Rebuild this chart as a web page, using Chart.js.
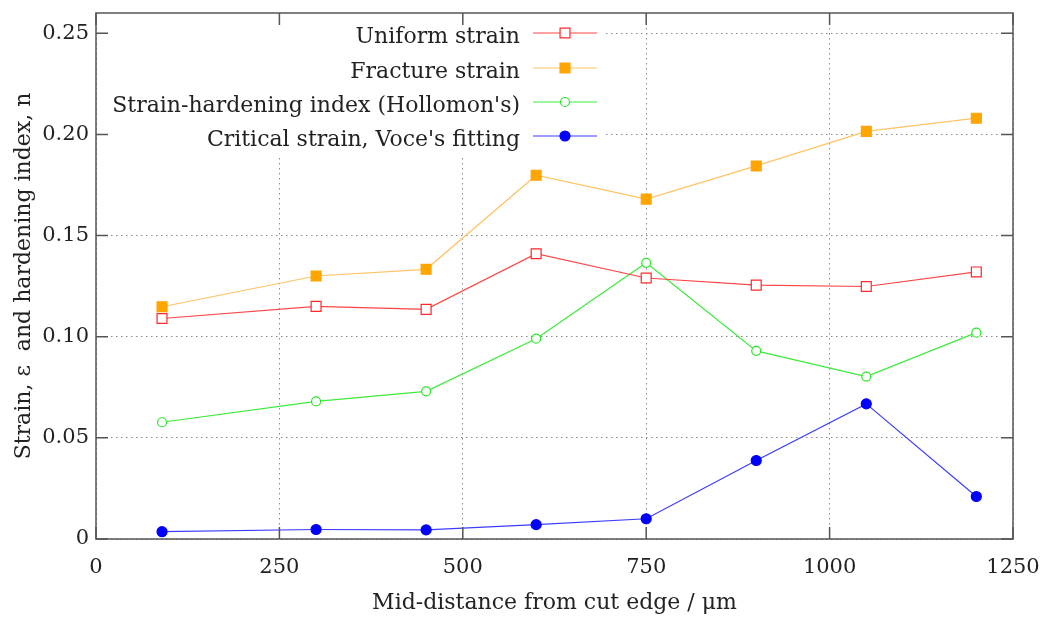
<!DOCTYPE html>
<html>
<head>
<meta charset="utf-8">
<script src="https://cdn.jsdelivr.net/npm/chart.js@4/dist/chart.umd.min.js"></script>
<style>
  html, body { margin: 0; padding: 0; background: #fff; }
  #wrap { width: 1041px; height: 619px; }
</style>
</head>
<body>
<div id="wrap"><canvas id="grafica"></canvas></div>
<script>
// datos
const distancias = [90, 300, 450, 600, 750, 900, 1050, 1200];
const deformacionUniforme = [0.109, 0.115, 0.1135, 0.141, 0.129, 0.1255, 0.1248, 0.132];
const deformacionFractura = [0.1148, 0.130, 0.1333, 0.1798, 0.168, 0.1844, 0.2015, 0.208];
const indiceHollomon = [0.0577, 0.068, 0.073, 0.099, 0.1365, 0.093, 0.0803, 0.102];
const deformacionCriticaVoce = [0.0036, 0.0047, 0.0045, 0.0071, 0.010, 0.0388, 0.0668, 0.021];

const etiquetas = [
    'Uniform strain',
    'Fracture strain',
    "Strain-hardening index (Hollomon's)",
    "Critical strain, Voce's fitting"
];
const ticksX = [0, 250, 500, 750, 1000, 1250];

const fuente = "'DejaVu Serif', 'Liberation Serif', serif";

function puntos(valores) {
    return distancias.map((x, i) => ({ x: x, y: valores[i] }));
}

// cuadro de leyenda opaco, estilo gnuplot
const cajaLeyenda = { right: 606, bottom: 157 };

const pluginMarco = {
    id: 'marco',
    beforeDatasetsDraw(chart) {
        const { ctx, chartArea } = chart;
        ctx.save();
        ctx.fillStyle = '#ffffff';
        ctx.fillRect(chartArea.left + 1, chartArea.top + 1,
            cajaLeyenda.right - chartArea.left - 1, cajaLeyenda.bottom - chartArea.top - 1);
        ctx.restore();
    },
    afterDraw(chart) {
        const { ctx, chartArea } = chart;
        const sx = chart.scales.x;
        const sy = chart.scales.y;
        const largo = 12;
        ctx.save();
        ctx.strokeStyle = '#555555';
        ctx.lineWidth = 1.5;
        // marcas hacia dentro en los cuatro lados
        ctx.beginPath();
        sx.ticks.forEach(t => {
            const px = sx.getPixelForValue(t.value);
            ctx.moveTo(px, chartArea.bottom);
            ctx.lineTo(px, chartArea.bottom - largo);
            ctx.moveTo(px, chartArea.top);
            ctx.lineTo(px, chartArea.top + largo);
        });
        sy.ticks.forEach(t => {
            const py = sy.getPixelForValue(t.value);
            ctx.moveTo(chartArea.left, py);
            ctx.lineTo(chartArea.left + largo, py);
            ctx.moveTo(chartArea.right, py);
            ctx.lineTo(chartArea.right - largo, py);
        });
        ctx.stroke();
        ctx.strokeRect(chartArea.left, chartArea.top,
            chartArea.right - chartArea.left, chartArea.bottom - chartArea.top);

        // leyenda: texto a la izquierda, muestra a la derecha
        const xTexto = 520;
        const xLinea1 = 533;
        const xLinea2 = 597;
        const filas = [33, 68, 102, 136];
        ctx.font = '22px ' + fuente;
        ctx.textAlign = 'right';
        ctx.textBaseline = 'middle';
        chart.data.datasets.forEach((ds, i) => {
            const y = filas[i];
            ctx.fillStyle = '#222222';
            ctx.fillText(ds.label, xTexto, y + 4);
            ctx.strokeStyle = ds.borderColor;
            ctx.lineWidth = ds.borderWidth;
            ctx.beginPath();
            ctx.moveTo(xLinea1, y);
            ctx.lineTo(xLinea2, y);
            ctx.stroke();
            ctx.fillStyle = ds.pointBackgroundColor;
            ctx.strokeStyle = ds.pointBorderColor;
            ctx.lineWidth = ds.pointBorderWidth;
            Chart.helpers.drawPoint(ctx, {
                pointStyle: ds.pointStyle,
                radius: ds.pointRadius,
                borderWidth: ds.pointBorderWidth,
                rotation: 0
            }, (xLinea1 + xLinea2) / 2, y);
        });
        ctx.restore();
    }
};

function serie(etiqueta, valores, linea, marcador, relleno, estilo, radio) {
    return {
        label: etiqueta,
        data: puntos(valores),
        borderColor: linea,
        borderWidth: 1.2,
        pointStyle: estilo,
        pointRadius: radio,
        pointHoverRadius: radio,
        pointBorderColor: marcador,
        pointBackgroundColor: relleno,
        pointBorderWidth: 1.2,
        tension: 0
    };
}

const ctx = document.getElementById('grafica').getContext('2d');
new Chart(ctx, {
    type: 'line',
    data: {
        datasets: [
            serie(etiquetas[0], deformacionUniforme, 'rgb(255,70,70)', 'rgb(255,40,40)', '#ffffff', 'rect', 7),
            serie(etiquetas[1], deformacionFractura, 'rgb(255,195,100)', 'rgb(255,165,0)', 'rgb(255,165,0)', 'rect', 7),
            serie(etiquetas[2], indiceHollomon, 'rgb(60,235,60)', 'rgb(40,230,40)', '#ffffff', 'circle', 4.5),
            serie(etiquetas[3], deformacionCriticaVoce, 'rgb(60,60,255)', 'rgb(0,0,255)', 'rgb(0,0,255)', 'circle', 5)
        ]
    },
    options: {
        responsive: true,
        maintainAspectRatio: false,
        animation: false,
        layout: { padding: { left: 0, top: 13, right: 28, bottom: 0 } },
        plugins: {
            legend: { display: false },
            tooltip: { enabled: false }
        },
        scales: {
            x: {
                type: 'linear',
                min: 0,
                max: 1250,
                afterBuildTicks: scale => { scale.ticks = ticksX.map(v => ({ value: v })); },
                afterFit: scale => {
                    scale.height = 80;
                    scale.paddingLeft = 0;
                    scale.paddingRight = 0;
                },
                grid: { color: '#8a8a8a', lineWidth: 1, drawTicks: false },
                border: { display: false, dash: [1.5, 3.5] },
                ticks: {
                    color: '#222222',
                    padding: 16,
                    font: { family: fuente, size: 21 },
                    callback: v => String(v)
                },
                title: {
                    display: true,
                    text: 'Mid-distance from cut edge / μm',
                    color: '#222222',
                    font: { family: fuente, size: 22 },
                    padding: { top: 0, bottom: 3 }
                }
            },
            y: {
                min: 0,
                max: 0.26,
                afterFit: scale => {
                    scale.width = 96;
                    scale.paddingTop = 0;
                    scale.paddingBottom = 0;
                },
                grid: { color: '#8a8a8a', lineWidth: 1, drawTicks: false },
                border: { display: false, dash: [1.5, 3.5] },
                ticks: {
                    stepSize: 0.05,
                    includeBounds: false,
                    color: '#222222',
                    padding: 7,
                    font: { family: fuente, size: 21 },
                    callback: v => (Math.abs(v) < 1e-9 ? '0' : v.toFixed(2))
                },
                title: {
                    display: true,
                    text: 'Strain, ε  and hardening index, n',
                    color: '#222222',
                    font: { family: fuente, size: 22 },
                    padding: { top: 11, bottom: 0 }
                }
            }
        }
    },
    plugins: [pluginMarco]
});
</script>
</body>
</html>
